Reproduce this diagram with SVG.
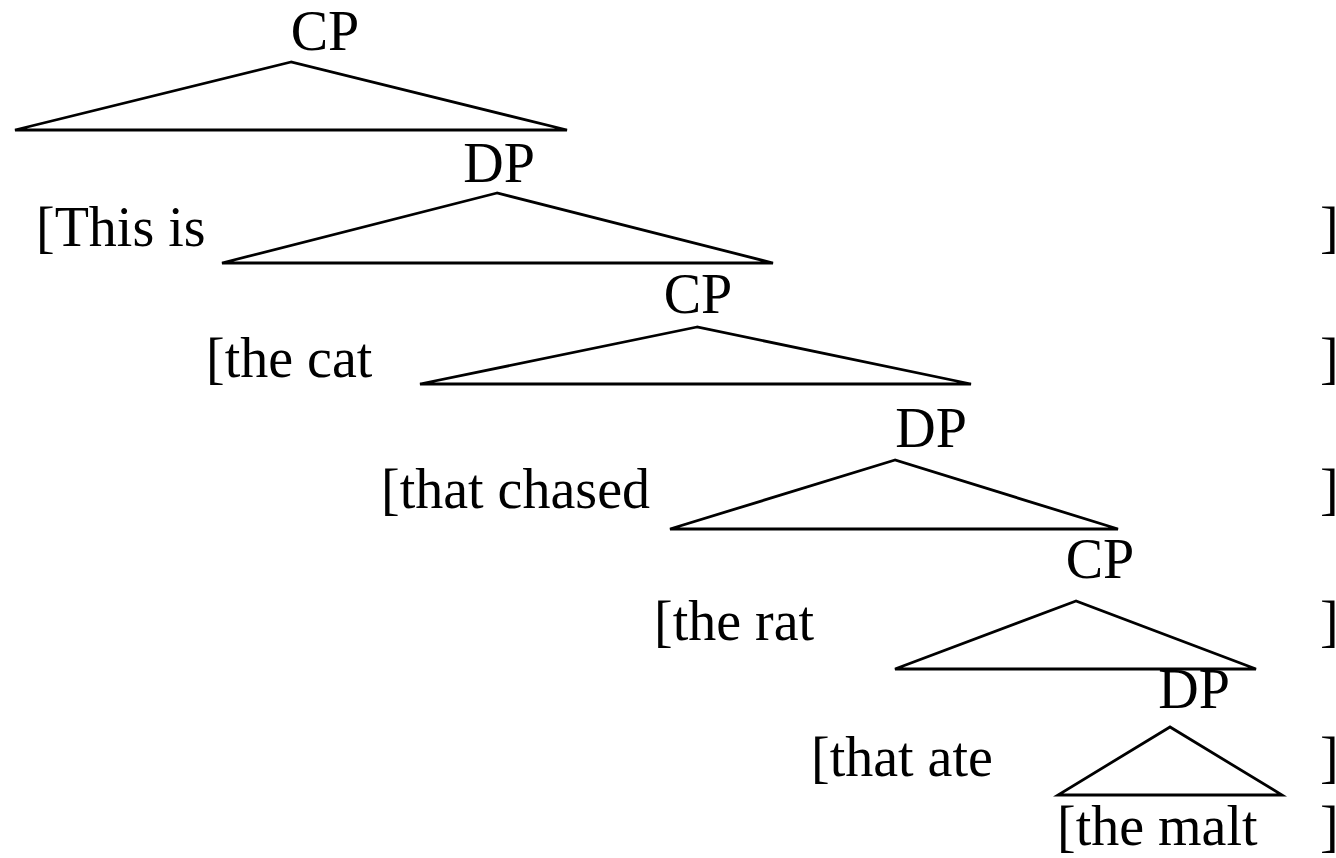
<svg xmlns="http://www.w3.org/2000/svg" width="1336" height="858" viewBox="0 0 1336 858">
<style>
text{font-family:"Liberation Serif","Times New Roman",serif;font-size:56px;fill:#000}
.lbl{text-anchor:middle}
.tri{fill:none;stroke:#000;stroke-width:2.8;stroke-linejoin:miter}
</style>
<rect width="1336" height="858" fill="#fff"/>
<g id="connectors">
<polygon class="tri" points="291,62 15,130 567,130"/>
<polygon class="tri" points="497,193 222,263 773,263"/>
<polygon class="tri" points="697,327 420,384 971,384"/>
<polygon class="tri" points="895,460 670,529 1118,529"/>
<polygon class="tri" points="1076,601 895,669 1256,669"/>
<polygon class="tri" points="1170,727 1058,795 1282,795"/>
</g>
<g id="n-cp1"><text class="lbl" x="325" y="50">CP</text></g>
<g id="n-dp1"><text class="lbl" x="499" y="182">DP</text></g>
<g id="n-cp2"><text class="lbl" x="698" y="313">CP</text></g>
<g id="n-dp2"><text class="lbl" x="931" y="447">DP</text></g>
<g id="n-cp3"><text class="lbl" x="1100" y="578">CP</text></g>
<g id="n-dp3"><text class="lbl" x="1194" y="708">DP</text></g>
<g id="row1"><text x="36" y="246">[This is</text><text x="1320" y="246">]</text></g>
<g id="row2"><text x="206" y="377">[the cat</text><text x="1320" y="377">]</text></g>
<g id="row3"><text x="381" y="508">[that chased</text><text x="1320" y="508">]</text></g>
<g id="row4"><text x="654" y="640">[the rat</text><text x="1320" y="640">]</text></g>
<g id="row5"><text x="811" y="776">[that ate</text><text x="1320" y="776">]</text></g>
<g id="row6"><text x="1057" y="845">[the malt</text><text x="1320" y="845">]</text></g>
</svg>
